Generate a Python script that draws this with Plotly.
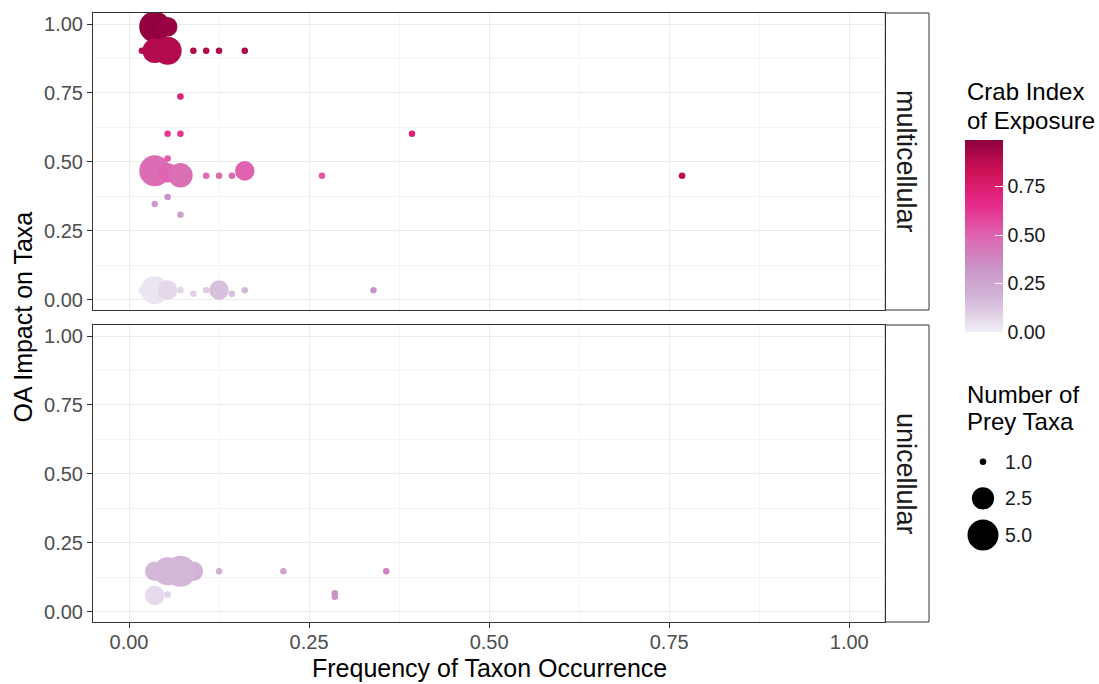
import plotly.graph_objects as go

# ---- data: multicellular taxa ----
top_freq = [0.0357, 0.0536, 0.0179, 0.0357, 0.0536, 0.0893, 0.1071, 0.1250, 0.1607,
            0.0714, 0.0536, 0.0714, 0.3929, 0.0536, 0.0357, 0.0536, 0.0714, 0.1071,
            0.1250, 0.1429, 0.1607, 0.2679, 0.7679, 0.0536, 0.0357, 0.0714, 0.0179,
            0.0357, 0.0536, 0.0714, 0.0893, 0.1071, 0.1250, 0.1429, 0.1607, 0.3393]
top_impact = [0.990, 0.990, 0.903, 0.903, 0.903, 0.903, 0.903, 0.903, 0.903,
              0.737, 0.602, 0.602, 0.602, 0.512, 0.467, 0.460, 0.451, 0.449,
              0.449, 0.449, 0.467, 0.449, 0.449, 0.372, 0.347, 0.308, 0.034,
              0.034, 0.034, 0.034, 0.021, 0.034, 0.034, 0.021, 0.034, 0.034]
top_taxa = [5, 2, 1, 3, 4, 1, 1, 1, 1,
            1, 1, 1, 1, 1, 5, 2, 3, 1,
            1, 1, 2, 1, 1, 1, 1, 1, 1,
            4, 2, 1, 1, 1, 2, 1, 1, 1]
top_exposure = [0.99, 0.97, 0.90, 0.90, 0.90, 0.91, 0.91, 0.91, 0.92,
                0.73, 0.62, 0.63, 0.72, 0.52, 0.47, 0.49, 0.46, 0.47,
                0.47, 0.48, 0.50, 0.54, 0.87, 0.33, 0.30, 0.27, 0.03,
                0.03, 0.07, 0.08, 0.09, 0.11, 0.14, 0.15, 0.17, 0.33]

# ---- data: unicellular taxa ----
bot_freq = [0.0357, 0.0536, 0.0893, 0.0714, 0.1250, 0.2143, 0.3571, 0.2857, 0.2857, 0.0357, 0.0536]
bot_impact = [0.146, 0.146, 0.146, 0.146, 0.146, 0.146, 0.146, 0.054, 0.066, 0.058, 0.062]
bot_taxa = [2, 4, 2, 5, 1, 1, 1, 1, 1, 2, 1]
bot_exposure = [0.17, 0.18, 0.19, 0.18, 0.21, 0.26, 0.40, 0.32, 0.33, 0.06, 0.09]

# axis ticks and legend breaks
tick_vals = [0, 0.25, 0.5, 0.75, 1.0]
tick_text = ["0.00", "0.25", "0.50", "0.75", "1.00"]
minor_vals = [0.125, 0.375, 0.625, 0.875]
cbar_vals = [0, 0.25, 0.5, 0.75]
cbar_text = ["0.00", "0.25", "0.50", "0.75"]
size_breaks = [1.0, 2.5, 5.0]
size_labels = ["1.0", "2.5", "5.0"]
facets = ["multicellular", "unicellular"]

PURD = [[0, "#f1eef6"], [1 / 6, "#d4b9da"], [2 / 6, "#c994c7"], [3 / 6, "#df65b0"],
        [4 / 6, "#e7298a"], [5 / 6, "#ce1256"], [1, "#91003f"]]
FONT = "Liberation Sans, Arial, sans-serif"
CMIN, CMAX = 0.0, 0.99


def size_px(n):
    """Map number of prey taxa to marker diameter in pixels."""
    return 6.5 + 24.5 * ((n - 1) / 4) ** 0.45


# pixel helpers for the layout (plot area: left 93, right 1099, top 13, bottom 622)
L, R, T, B = 93, 0, 13, 62
W, H = 1099, 684
PW, PH = W - L - R, H - T - B


def px_x(p):
    return (p - L) / PW


def px_y(p):
    return (H - B - p) / PH


panel_right = px_x(885.3)
strip_right = px_x(929)
top_dom = [px_y(310), 1.0]
bot_dom = [0.0, px_y(325)]

fig = go.Figure()

fig.add_trace(go.Scatter(
    x=top_freq, y=top_impact, mode="markers", xaxis="x", yaxis="y",
    marker=dict(size=[size_px(n) for n in top_taxa], color=top_exposure,
                colorscale=PURD, cmin=CMIN, cmax=CMAX, opacity=1,
                line=dict(width=0), showscale=True,
                colorbar=dict(x=px_x(965), xanchor="left", xpad=0,
                              y=px_y(236), yanchor="middle", ypad=0,
                              thickness=38, lenmode="pixels", len=192,
                              outlinewidth=0, ticks="inside", ticklen=8,
                              tickcolor="white", tickwidth=1,
                              tickvals=cbar_vals, ticktext=cbar_text,
                              tickfont=dict(family=FONT, size=19.5, color="#1a1a1a"))),
    hoverinfo="skip", showlegend=False))

fig.add_trace(go.Scatter(
    x=bot_freq, y=bot_impact, mode="markers", xaxis="x2", yaxis="y2",
    marker=dict(size=[size_px(n) for n in bot_taxa], color=bot_exposure,
                colorscale=PURD, cmin=CMIN, cmax=CMAX, opacity=1,
                line=dict(width=0), showscale=False),
    hoverinfo="skip", showlegend=False))

# size legend keys
fig.add_trace(go.Scatter(
    x=[20] * len(size_breaks), y=list(range(len(size_breaks))), mode="markers",
    xaxis="x3", yaxis="y3", cliponaxis=False, opacity=1,
    marker=dict(size=[size_px(v) for v in size_breaks], color="#000000", opacity=1,
                line=dict(width=0)),
    hoverinfo="skip", showlegend=False))

axis_common = dict(range=[-0.05, 1.05], tickvals=tick_vals, ticktext=tick_text,
                   showgrid=True, gridcolor="#ebebeb", gridwidth=1.2, zeroline=False,
                   minor=dict(tickvals=minor_vals, showgrid=True, gridcolor="#f4f4f4", gridwidth=0.7),
                   showline=True, mirror=True, linecolor="#333333", linewidth=1,
                   tickfont=dict(family=FONT, size=20, color="#4d4d4d"),
                   tickcolor="#333333", ticklen=5, tickwidth=1)
yaxis_common = dict(axis_common, range=[-0.038, 1.04], ticks="outside")

annotations = [
    dict(text="Frequency of Taxon Occurrence", x=px_x(489), y=px_y(668), xref="paper", yref="paper",
         showarrow=False, font=dict(family=FONT, size=25, color="black"), xanchor="center", yanchor="middle"),
    dict(text="OA Impact on Taxa", x=px_x(22), y=px_y(317.5), xref="paper", yref="paper",
         showarrow=False, textangle=-90, font=dict(family=FONT, size=25, color="black"),
         xanchor="center", yanchor="middle"),
    dict(text=facets[0], x=px_x(906.5), y=sum(top_dom) / 2, xref="paper", yref="paper",
         showarrow=False, textangle=90, xanchor="center", yanchor="middle",
         font=dict(family=FONT, size=27, color="#1a1a1a")),
    dict(text=facets[1], x=px_x(906.5), y=sum(bot_dom) / 2, xref="paper", yref="paper",
         showarrow=False, textangle=90, xanchor="center", yanchor="middle",
         font=dict(family=FONT, size=27, color="#1a1a1a")),
]
for txt, py in [("Crab Index", 92), ("of Exposure", 120), ("Number of", 394), ("Prey Taxa", 421)]:
    annotations.append(dict(text=txt, x=px_x(965), y=px_y(py), xref="paper", yref="paper",
                            showarrow=False, xanchor="left", yanchor="middle",
                            font=dict(family=FONT, size=24, color="black")))
for i, lab in enumerate(size_labels):
    annotations.append(dict(text=lab, x=40, y=i, xref="x3", yref="y3", showarrow=False,
                            xanchor="left", yanchor="middle",
                            font=dict(family=FONT, size=19.5, color="#1a1a1a")))

shapes = []
for dom in (top_dom, bot_dom):
    shapes.append(dict(type="rect", xref="paper", yref="paper", x0=panel_right, x1=strip_right,
                       y0=dom[0], y1=dom[1], line=dict(color="#333333", width=1),
                       fillcolor="white", layer="below"))

fig.update_layout(
    width=W, height=H, margin=dict(l=L, r=R, t=T, b=B),
    paper_bgcolor="white", plot_bgcolor="white",
    font=dict(family=FONT),
    xaxis=dict(axis_common, domain=[0, panel_right], anchor="y", showticklabels=False, ticks=""),
    xaxis2=dict(axis_common, domain=[0, panel_right], anchor="y2", matches="x", ticks="outside",
                ticklabelstandoff=-3),
    yaxis=dict(yaxis_common, domain=top_dom, anchor="x"),
    yaxis2=dict(yaxis_common, domain=bot_dom, anchor="x2"),
    xaxis3=dict(domain=[px_x(963), px_x(1063)], range=[0, 100], visible=False, anchor="y3"),
    yaxis3=dict(domain=[px_y(553.35), px_y(443.35)], range=[2.5, -0.5], visible=False, anchor="x3"),
    annotations=annotations, shapes=shapes,
)

fig.write_html("out.html")
